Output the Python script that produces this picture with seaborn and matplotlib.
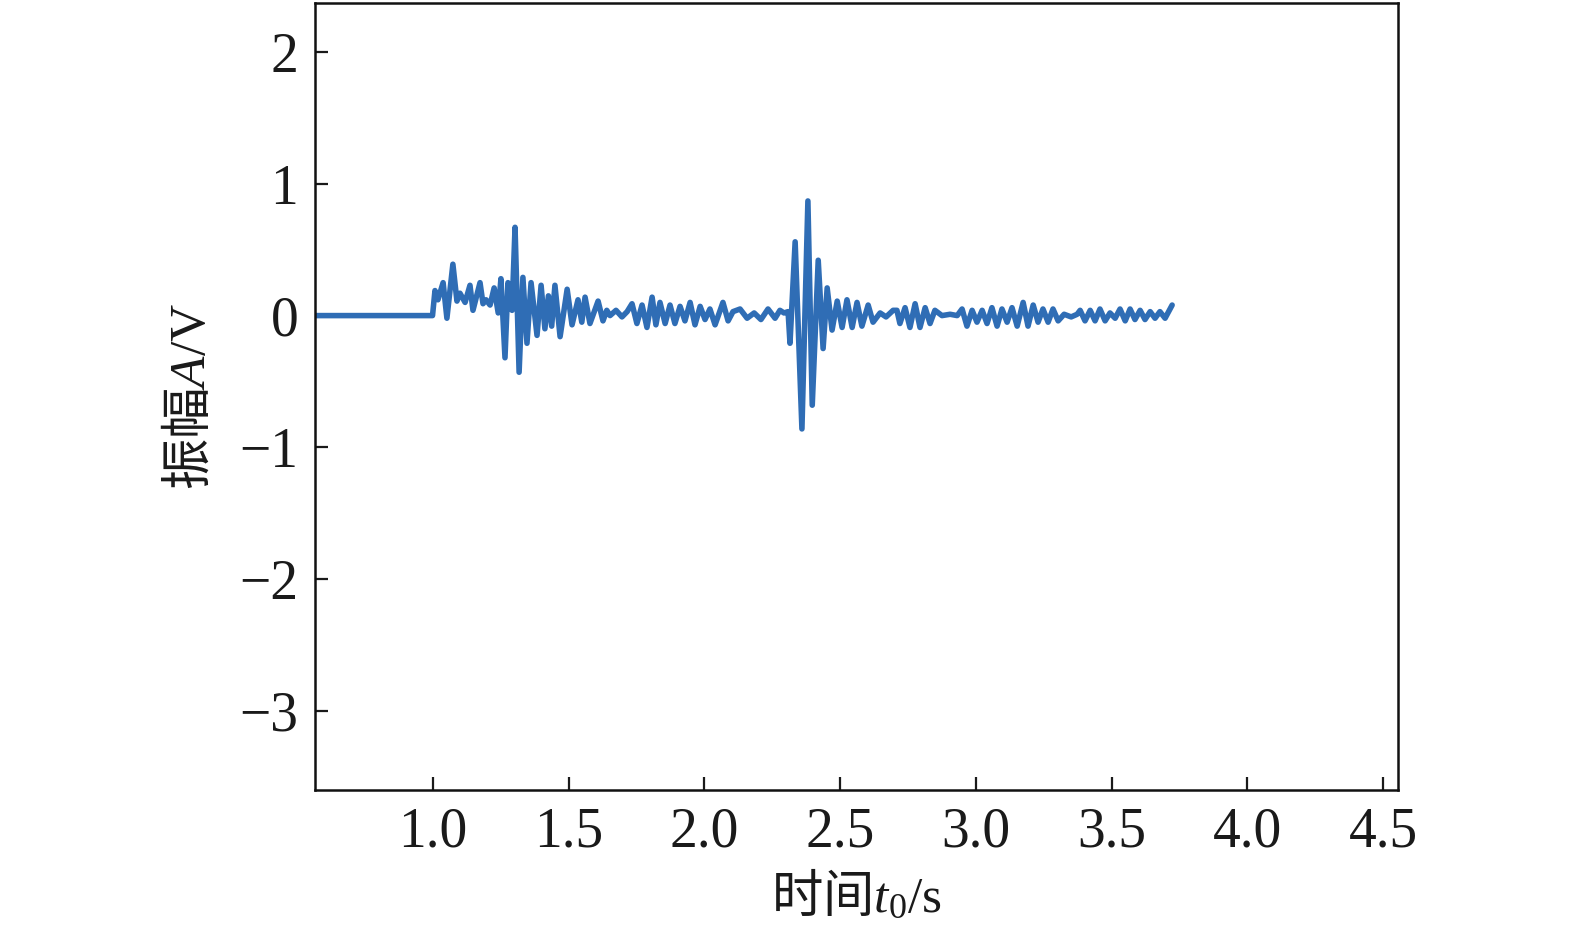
import matplotlib
matplotlib.use("Agg")
import matplotlib.pyplot as plt
import seaborn as sns
import pandas as pd

# Waveform (time in s, amplitude in V)
times = [0.56, 0.998, 1.007, 1.018, 1.037, 1.051, 1.073, 1.088, 1.099, 1.118,
         1.136, 1.147, 1.173, 1.184, 1.195, 1.210, 1.225, 1.240, 1.250, 1.265,
         1.276, 1.291, 1.302, 1.317, 1.331, 1.346, 1.361, 1.383, 1.398, 1.412,
         1.425, 1.437, 1.449, 1.468, 1.494, 1.512, 1.534, 1.548, 1.560, 1.578,
         1.608, 1.626, 1.640, 1.652, 1.674, 1.696, 1.715, 1.733, 1.751, 1.770,
         1.788, 1.807, 1.821, 1.836, 1.855, 1.873, 1.891, 1.910, 1.928, 1.947,
         1.965, 1.984, 2.002, 2.020, 2.039, 2.068, 2.087, 2.105, 2.131, 2.157,
         2.183, 2.208, 2.234, 2.260, 2.278, 2.293, 2.308, 2.315, 2.334, 2.359,
         2.381, 2.397, 2.419, 2.437, 2.452, 2.470, 2.489, 2.507, 2.525, 2.544,
         2.562, 2.580, 2.603, 2.621, 2.647, 2.669, 2.695, 2.709, 2.720, 2.739,
         2.757, 2.776, 2.794, 2.813, 2.831, 2.849, 2.875, 2.905, 2.931, 2.949,
         2.967, 2.986, 3.004, 3.023, 3.041, 3.059, 3.078, 3.096, 3.115, 3.133,
         3.152, 3.174, 3.192, 3.211, 3.229, 3.247, 3.266, 3.284, 3.303, 3.325,
         3.351, 3.373, 3.384, 3.402, 3.421, 3.439, 3.457, 3.476, 3.494, 3.513,
         3.531, 3.550, 3.568, 3.586, 3.605, 3.623, 3.642, 3.660, 3.678, 3.697,
         3.723]
amps = [0.0, 0.0, 0.19, 0.12, 0.25, -0.02, 0.39, 0.11, 0.17, 0.10,
        0.23, 0.04, 0.25, 0.09, 0.12, 0.08, 0.21, 0.02, 0.28, -0.32,
        0.25, 0.04, 0.67, -0.43, 0.29, -0.21, 0.25, -0.15, 0.23, -0.10,
        0.15, -0.08, 0.23, -0.16, 0.20, -0.07, 0.12, -0.05, 0.14, -0.06,
        0.11, -0.04, 0.04, 0.0, 0.04, -0.01, 0.03, 0.09, -0.06, 0.08,
        -0.09, 0.14, -0.07, 0.10, -0.06, 0.08, -0.06, 0.07, -0.04, 0.10,
        -0.07, 0.07, -0.03, 0.05, -0.07, 0.10, -0.04, 0.03, 0.05, -0.02,
        0.02, -0.03, 0.05, -0.02, 0.04, 0.02, 0.03, -0.21, 0.56, -0.86,
        0.87, -0.68, 0.42, -0.25, 0.21, -0.11, 0.11, -0.09, 0.12, -0.09,
        0.10, -0.08, 0.08, -0.05, 0.02, -0.01, 0.04, 0.04, -0.06, 0.06,
        -0.09, 0.09, -0.09, 0.06, -0.06, 0.04, 0.0, 0.01, 0.0, 0.05,
        -0.08, 0.04, -0.05, 0.04, -0.06, 0.06, -0.08, 0.05, -0.05, 0.06,
        -0.08, 0.10, -0.08, 0.08, -0.05, 0.05, -0.05, 0.05, -0.04, 0.01,
        -0.01, 0.01, 0.04, -0.04, 0.04, -0.04, 0.05, -0.04, 0.02, -0.02,
        0.05, -0.04, 0.05, -0.03, 0.04, -0.03, 0.03, -0.02, 0.03, -0.02,
        0.08]

xticks = [1.0, 1.5, 2.0, 2.5, 3.0, 3.5, 4.0, 4.5]
xticklabels = ["1.0", "1.5", "2.0", "2.5", "3.0", "3.5", "4.0", "4.5"]
yticks = [2, 1, 0, -1, -2, -3]
yticklabels = ["2", "1", "0", "\u22121", "\u22122", "\u22123"]
xlabel = r"时间$t_0/\mathrm{s}$"
ylabel = r"振幅$A/\mathrm{V}$"

sns.set_theme(style="ticks")
plt.rcParams["font.family"] = ["Liberation Serif", "Noto Sans CJK SC"]
plt.rcParams["mathtext.fontset"] = "custom"
plt.rcParams["mathtext.rm"] = "Liberation Serif"
plt.rcParams["mathtext.it"] = "Liberation Serif:italic"

df = pd.DataFrame({"t": times, "A": amps})

fig = plt.figure(figsize=(15.75, 9.39), dpi=100)
ax = fig.add_axes([0.2, 0.1587, 0.6876, 0.8378])
sns.lineplot(data=df, x="t", y="A", ax=ax, color="#2f6db5", linewidth=4.0,
             estimator=None, sort=False)

ax.set_xlim(0.565, 4.555)
ax.set_ylim(-3.6, 2.37)
ax.set_xticks(xticks)
ax.set_xticklabels(xticklabels)
ax.set_yticks(yticks)
ax.set_yticklabels(yticklabels)
ax.tick_params(direction="in", length=9.5, width=1.6, labelsize=40,
               colors="#1a1a1a", pad=12)
for s in ax.spines.values():
    s.set_linewidth(1.8)
    s.set_color("#111111")
    s.set_visible(True)

ax.set_xlabel(xlabel, fontsize=37, labelpad=8, color="#1a1a1a",
              family="Noto Sans CJK SC")
ax.set_ylabel(ylabel, fontsize=37, labelpad=16, color="#1a1a1a",
              family="Noto Sans CJK SC")

fig.savefig("out.png", dpi=100)
